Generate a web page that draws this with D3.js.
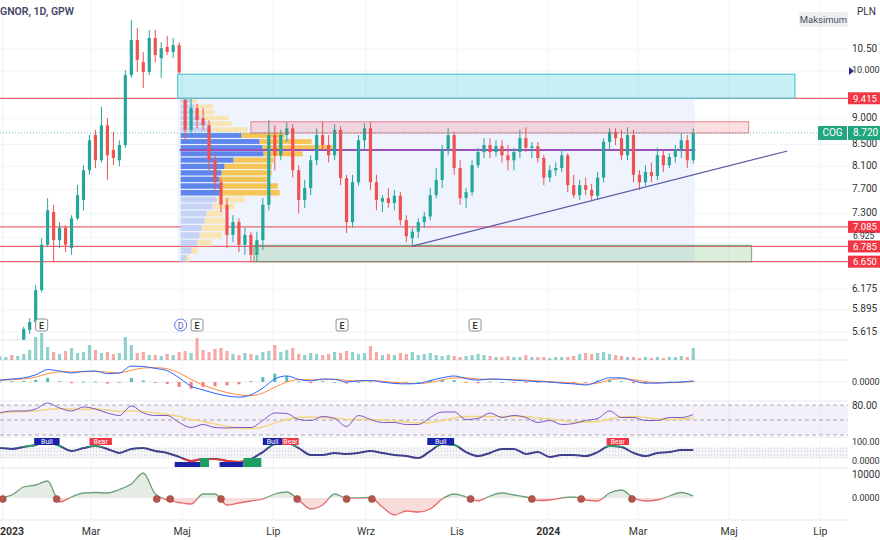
<!DOCTYPE html>
<html><head><meta charset="utf-8">
<script src="https://cdn.jsdelivr.net/npm/d3@7"></script>
<style>body{margin:0;background:#fff;}svg{display:block;font-family:Roboto,"Noto Sans",sans-serif;}</style>
</head><body><svg id="c" width="880" height="540"></svg>
<script>
// ---------------- DATA ----------------
const title = "GNOR, 1D, GPW";
const currency = "PLN";
const startDate = new Date(2022, 11, 30);
const stepDays = 4;          // one candle every 4 calendar days
const indicatorStep = 8;     // indicator samples every 8 calendar days

const opens = [5.30,5.33,5.38,5.36,5.52,5.64,5.74,6.16,6.81,7.32,6.88,7.07,6.76,7.22,7.52,8.03,8.68,8.21,8.87,8.40,8.21,8.49,9.91,10.71,10.20,9.98,10.76,10.29,10.55,10.43,10.59,9.38,8.78,9.21,9.01,8.87,8.21,7.82,7.44,6.96,7.16,6.81,6.96,6.66,6.88,7.44,8.68,8.30,8.68,8.81,8.03,7.52,7.72,8.21,8.68,8.49,8.30,8.78,7.89,7.16,7.82,8.58,8.81,7.82,7.49,7.55,7.47,7.59,7.19,6.91,7.01,7.16,7.25,7.60,7.86,8.40,8.68,8.07,7.55,7.65,8.12,8.36,8.49,8.36,8.47,8.30,8.21,8.36,8.62,8.44,8.47,8.25,7.90,8.03,8.07,8.30,7.77,7.60,7.77,7.69,7.59,7.90,8.55,8.74,8.62,8.30,8.68,7.95,7.82,8.00,7.93,8.30,8.12,8.27,8.40,8.58,8.21];
const highs = [5.36,5.42,5.45,5.52,5.68,5.79,6.23,6.91,7.55,7.44,7.16,7.11,7.27,7.77,8.12,8.68,8.78,9.24,9.01,8.74,8.58,10.02,11.20,11.00,10.43,10.95,10.95,10.66,10.81,10.76,10.66,9.41,9.40,9.30,9.21,8.97,8.30,7.90,7.55,7.27,7.22,7.07,7.01,7.01,7.55,8.97,8.87,8.78,8.93,8.89,8.12,7.86,8.30,8.81,8.95,8.68,8.89,8.85,7.95,7.95,8.68,8.91,8.93,7.95,7.60,7.72,7.69,7.65,7.27,7.07,7.22,7.32,7.72,8.07,8.49,8.81,8.74,8.21,7.72,8.21,8.44,8.62,8.62,8.58,8.58,8.49,8.44,8.78,8.83,8.55,8.55,8.30,8.12,8.17,8.40,8.34,7.95,7.86,7.90,7.79,8.00,8.62,8.81,8.81,8.78,8.83,8.78,8.03,8.12,8.17,8.44,8.40,8.34,8.49,8.72,8.68,8.81];
const lows = [5.26,5.30,5.33,5.34,5.50,5.59,5.71,6.13,6.78,6.55,6.76,6.70,6.66,7.19,7.35,7.95,8.07,8.17,7.86,8.12,8.10,8.44,9.85,9.98,9.63,9.91,10.20,9.85,10.36,10.29,9.93,8.58,8.68,8.81,8.78,8.03,7.69,7.32,6.76,6.85,6.70,6.66,6.55,6.56,6.73,7.35,8.03,8.21,8.55,7.90,7.30,7.39,7.60,8.12,8.40,8.17,8.21,7.77,6.99,7.07,7.76,8.40,7.69,7.35,7.32,7.39,7.35,7.11,6.85,6.79,6.91,7.07,7.19,7.55,7.72,8.30,7.95,7.44,7.39,7.59,8.07,8.25,8.25,8.28,8.17,8.03,8.03,8.25,8.36,8.25,8.17,7.77,7.82,7.93,8.00,7.65,7.55,7.52,7.60,7.50,7.52,7.82,8.40,8.49,8.21,8.21,7.82,7.69,7.76,7.82,7.86,8.00,8.07,8.17,8.25,8.07,8.15];
const closes = [5.33,5.38,5.36,5.50,5.65,5.74,6.16,6.81,7.35,6.88,7.07,6.81,7.22,7.60,8.03,8.58,8.21,8.87,8.30,8.25,8.49,9.91,10.71,10.25,9.98,10.76,10.36,10.52,10.43,10.59,9.97,8.78,9.21,8.97,8.87,8.21,7.82,7.44,6.96,7.16,6.81,6.96,6.66,6.88,7.44,8.68,8.30,8.68,8.81,8.03,7.52,7.72,8.21,8.68,8.49,8.30,8.78,7.89,7.16,7.82,8.58,8.81,7.82,7.52,7.55,7.47,7.59,7.19,6.94,7.01,7.16,7.25,7.60,7.86,8.40,8.68,8.07,7.55,7.65,8.12,8.36,8.49,8.36,8.47,8.30,8.21,8.36,8.62,8.44,8.47,8.25,7.90,8.03,8.07,8.30,7.77,7.60,7.77,7.69,7.59,7.90,8.55,8.74,8.62,8.30,8.68,7.95,7.82,8.00,7.93,8.30,8.12,8.27,8.40,8.58,8.21,8.72];
const volumes = [40,30,50,40,60,100,230,270,130,80,60,90,120,70,80,150,100,70,80,60,70,230,150,70,80,50,50,40,60,50,80,90,70,220,100,80,110,120,90,60,50,70,60,50,80,90,150,80,100,120,60,50,70,60,50,60,80,70,90,80,60,70,140,80,50,60,50,70,60,80,50,60,70,50,40,50,40,30,40,50,60,50,40,30,30,40,30,30,50,30,30,30,20,30,30,30,40,60,70,60,70,80,60,50,40,30,30,20,30,20,30,20,30,30,40,30,120];

const macdLine = [0.05,0.08,0.11,0.19,0.33,0.29,0.24,0.28,0.29,0.22,0.24,0.42,0.41,0.36,0.30,0.11,-0.11,-0.21,-0.30,-0.37,-0.40,-0.34,-0.16,0.08,0.16,0.07,0.03,0.08,0.07,0.00,0.03,0.04,0.00,-0.04,-0.05,-0.04,0.04,0.11,0.16,0.09,0.05,0.08,0.07,0.05,0.03,0.01,0.00,-0.03,-0.05,-0.08,0.01,0.11,0.11,0.03,-0.03,-0.03,-0.01,0.00,0.03];
const macdSignal = [0.04,0.06,0.08,0.13,0.22,0.27,0.27,0.27,0.28,0.26,0.24,0.31,0.37,0.38,0.35,0.24,0.07,-0.08,-0.19,-0.28,-0.34,-0.36,-0.29,-0.14,0.00,0.06,0.06,0.06,0.07,0.04,0.03,0.03,0.02,-0.01,-0.03,-0.04,-0.01,0.05,0.11,0.11,0.08,0.07,0.07,0.06,0.05,0.03,0.01,-0.01,-0.03,-0.06,-0.03,0.05,0.09,0.06,0.01,-0.02,-0.02,-0.01,0.01];
const rsiLine = [64,68,68,72,84,74,68,76,72,64,59,78,64,59,59,45,35,41,35,34,35,35,49,64,63,51,49,57,53,37,59,51,45,45,41,41,55,66,66,51,53,64,55,59,55,45,49,41,43,49,53,68,55,55,49,49,55,55,61];
const rsiMA = [65,66,67,68,71,73,72,71,72,70,67,68,67,64,61,57,51,47,42,37,34,33,36,44,51,55,56,55,54,51,51,51,50,48,46,44,45,49,54,57,57,57,57,57,57,54,52,49,46,46,47,52,56,57,55,52,51,52,54];
const oscLine = [71,67,76,86,100,81,57,71,81,67,48,67,71,57,48,29,10,19,19,10,5,19,52,90,95,71,38,38,48,43,48,57,48,38,33,24,57,90,86,52,33,48,67,67,43,52,29,38,38,33,52,81,76,48,33,48,52,62,62];
const momLine = [0.0,0.3,1.1,1.3,1.7,-0.4,0.1,0.5,0.55,0.5,0.85,1.4,2.5,0.4,-0.2,-0.45,-0.6,0.4,0.4,-0.7,-0.5,-0.3,-0.1,0.4,0.6,-0.2,-1.1,-0.7,0.4,0.0,0.0,0.05,-0.9,-1.7,-1.3,-1.4,-1.1,-0.1,0.4,0.1,-0.3,0.2,0.5,0.3,0.1,-0.25,-0.2,0.0,0.1,-0.2,-0.3,0.5,0.8,0.0,-0.3,-0.2,0.2,0.55,0.2];
const momDots = ["2023-01-01","2023-02-06","2023-04-14","2023-04-23","2023-05-27","2023-07-17","2023-08-19","2023-09-05","2023-11-10","2023-12-21","2024-01-23","2024-02-26"];

const oscSignals = [
  {from:"2023-01-22", to:"2023-02-08", pos:"top", kind:"bull", text:"Bull"},
  {from:"2023-02-28", to:"2023-03-15", pos:"top", kind:"bear", text:"Bear"},
  {from:"2023-06-24", to:"2023-07-07", pos:"top", kind:"bull", text:"Bull"},
  {from:"2023-07-07", to:"2023-07-18", pos:"top", kind:"bear", text:"Bear"},
  {from:"2023-10-12", to:"2023-10-30", pos:"top", kind:"bull", text:"Bull"},
  {from:"2024-02-09", to:"2024-02-24", pos:"top", kind:"bear", text:"Bear"},
  {from:"2023-04-26", to:"2023-05-13", pos:"bottom", kind:"bull", text:"Bull"},
  {from:"2023-05-13", to:"2023-05-19", pos:"bottom", kind:"up", text:""},
  {from:"2023-05-26", to:"2023-06-11", pos:"bottom", kind:"bull", text:"Bull"},
  {from:"2023-06-11", to:"2023-06-23", pos:"bottom", kind:"up", text:""}
];

const priceTicks = [10.5,10.0,9.0,8.5,8.1,7.7,7.3,6.925,6.175,5.895,5.615];
const priceTickLabels = ["10.50","10.000","9.000","8.500","8.100","7.700","7.300","6.925","6.175","5.895","5.615"];
const levels = [9.415, 7.085, 6.785, 6.56];
const levelLabels = ["9.415","7.085","6.785","6.650"];
const lastPriceLabel = "8.720";
const symbolTag = "COG";

const monthTicks = ["2023-01-01","2023-03-01","2023-05-01","2023-07-01","2023-09-01","2023-11-01","2024-01-01","2024-03-01","2024-05-01","2024-07-01"];
const monthLabels = ["2023","Mar","Maj","Lip","Wrz","Lis","2024","Mar","Maj","Lip"];

const earningsDates = ["2023-01-27","2023-05-11","2023-08-16","2023-11-13"];
const dividendDates = ["2023-04-30"];

// volume profile (rows top -> bottom, thousands of shares)
const vpRange = [6.55, 9.415];
const vpFrom = "2023-04-28", vpTo = "2024-04-08";
const vpUp =   [100,140,140,200,270,310,610,790,820,830,530,440,410,390,420,410,360,320,260,240,210,190,170,110,60];
const vpDown = [60,180,200,280,240,360,430,520,700,390,400,470,500,480,550,580,280,220,160,200,250,220,140,60,30];
const valueArea = [7.58, 8.73];
const pocPrice = 8.40;

const gapBox = {from:"2023-04-28", to:"2024-06-14", lo:9.415, hi:9.93};
const resistBox = {from:"2023-06-16", to:"2024-05-14", lo:8.72, hi:8.94};
const supportBox = {from:"2023-06-18", to:"2024-05-16", lo:6.56, hi:6.80};
const trendLine = [{date:"2023-10-02", v:6.79},{date:"2024-06-09", v:8.38}];

// ---------------- CHART ----------------
const svg = d3.select("#c");
const parse = d3.timeParse("%Y-%m-%d");
const plotR = 848;
const x = d3.scaleTime().domain([new Date(2023,0,1), new Date(2024,6,1)]).range([2.8, 820.3]);
const yP = d3.scaleLog().domain([5.615, 10.5]).range([332, 49]);
const yV = d3.scaleLinear().domain([0, 300]).range([360, 330]);
const yM = d3.scaleLinear().domain([-0.45, 0.45]).range([399, 365]);
const yR = d3.scaleLinear().domain([20, 80]).range([435, 405]);
const yO = d3.scaleLinear().domain([0, 100]).range([463, 442]);
const yQ = d3.scaleLinear().domain([-2.5, 2.5]).range([523, 473]);

const UP = "#26a69a", DN = "#ef5350";
const candles = opens.map((o,i)=>({date:d3.timeDay.offset(startDate, stepDays*i), o, h:highs[i], l:lows[i], c:closes[i], v:volumes[i]}));
const indDates = macdLine.map((_,k)=>d3.timeDay.offset(startDate, indicatorStep*k));

const defs = svg.append("defs");
function clip(id, x0, y0, w, h){ defs.append("clipPath").attr("id",id).append("rect").attr("x",x0).attr("y",y0).attr("width",w).attr("height",h); }
clip("cp",0,0,plotR,340); clip("cv",0,330,plotR,30); clip("cm",0,361,plotR,39);
clip("cr",0,401,plotR,36); clip("co",0,437,plotR,31); clip("cqa",0,468,plotR,yQ(0)-468); clip("cqb",0,yQ(0),plotR,520-yQ(0));

// grid
const grid = svg.append("g");
monthTicks.forEach(t=>grid.append("line").attr("x1",x(parse(t))).attr("x2",x(parse(t))).attr("y1",0).attr("y2",520).attr("stroke","#f0f3fa"));
priceTicks.forEach(t=>grid.append("line").attr("x1",0).attr("x2",plotR).attr("y1",yP(t)).attr("y2",yP(t)).attr("stroke","#f2f4f9"));

// separators
[340,360,401,437,468,520].forEach(yy=>svg.append("line").attr("x1",0).attr("x2",plotR).attr("y1",yy).attr("y2",yy).attr("stroke","#e6e8ee"));

// ---- price pane
const pp = svg.append("g").attr("clip-path","url(#cp)");
pp.append("rect").attr("x",x(parse(vpFrom))).attr("width",x(parse(vpTo))-x(parse(vpFrom)))
  .attr("y",yP(vpRange[1])).attr("height",yP(vpRange[0])-yP(vpRange[1])).attr("fill","#eef3fd");
levels.forEach(l=>pp.append("line").attr("x1",0).attr("x2",plotR).attr("y1",yP(l)).attr("y2",yP(l)).attr("stroke","#ee6470").attr("stroke-width",1.3));
const nRows = vpUp.length, step = (vpRange[1]-vpRange[0])/nRows;
const vpX = d3.scaleLinear().domain([0,1520]).range([0,152]);
const vx0 = x(parse(vpFrom))+3;
vpUp.forEach((u,r)=>{
  const top = vpRange[1]-r*step, bot = top-step, mid=(top+bot)/2;
  const inVA = mid>=valueArea[0] && mid<=valueArea[1];
  const y0 = yP(top)+0.5, h = Math.max(1, yP(bot)-yP(top)-1.2);
  pp.append("rect").attr("x",vx0).attr("y",y0).attr("width",vpX(u)).attr("height",h).attr("fill",inVA?"#5f86ec":"#c5d2f4");
  pp.append("rect").attr("x",vx0+vpX(u)).attr("y",y0).attr("width",vpX(vpDown[r])).attr("height",h).attr("fill",inVA?"#f6c556":"#f9e4b6");
});
pp.append("line").attr("x1",x(parse(vpFrom))+2).attr("x2",x(candles[candles.length-1].date)+2).attr("y1",yP(pocPrice)).attr("y2",yP(pocPrice)).attr("stroke","#9b52b8").attr("stroke-width",2);
const cg = pp.append("g");
candles.forEach(d=>{
  const col = d.c>=d.o?UP:DN, cx = x(d.date);
  cg.append("line").attr("x1",cx).attr("x2",cx).attr("y1",yP(d.h)).attr("y2",yP(d.l)).attr("stroke",col).attr("stroke-width",1);
  const yt = yP(Math.max(d.o,d.c)), yb = yP(Math.min(d.o,d.c));
  cg.append("rect").attr("x",cx-1.6).attr("width",3.2).attr("y",yt).attr("height",Math.max(1,yb-yt)).attr("fill",col);
});
function box(b, fill, stroke){
  pp.append("rect").attr("x",x(parse(b.from))).attr("width",x(parse(b.to))-x(parse(b.from)))
    .attr("y",yP(b.hi)).attr("height",yP(b.lo)-yP(b.hi)).attr("fill",fill).attr("stroke",stroke).attr("stroke-width",1.2);
}
box(gapBox,"rgba(0,188,212,0.22)","#57c7d6");
box(resistBox,"rgba(242,54,69,0.16)","rgba(226,90,104,0.6)");
box(supportBox,"rgba(76,175,80,0.2)","rgba(110,140,100,0.7)");
pp.append("line").attr("x1",x(parse(trendLine[0].date))).attr("y1",yP(trendLine[0].v))
  .attr("x2",x(parse(trendLine[1].date))).attr("y2",yP(trendLine[1].v)).attr("stroke","#5a5aa8").attr("stroke-width",1.2);
const last = candles[candles.length-1].c;
pp.append("line").attr("x1",0).attr("x2",plotR).attr("y1",yP(last)).attr("y2",yP(last)).attr("stroke","#26a69a").attr("stroke-dasharray","1,2").attr("stroke-opacity",0.7);

earningsDates.forEach(d=>{
  const cx = x(parse(d)), g = svg.append("g");
  g.append("rect").attr("x",cx-6).attr("y",319).attr("width",12).attr("height",12).attr("rx",2).attr("fill","#fff").attr("stroke","#8a8e99");
  g.append("text").attr("x",cx).attr("y",328.5).attr("text-anchor","middle").attr("font-size",9).attr("font-weight",600).attr("fill","#333").text("E");
});
dividendDates.forEach(d=>{
  const cx = x(parse(d)), g = svg.append("g");
  g.append("circle").attr("cx",cx).attr("cy",325).attr("r",6).attr("fill","#fff").attr("stroke","#5b73e8");
  g.append("text").attr("x",cx).attr("y",328.5).attr("text-anchor","middle").attr("font-size",9).attr("fill","#4a62d8").text("D");
});

// ---- volume pane
const vg = svg.append("g").attr("clip-path","url(#cv)");
candles.forEach(d=>{
  vg.append("rect").attr("x",x(d.date)-1.6).attr("width",3.2).attr("y",yV(d.v)).attr("height",yV(0)-yV(d.v))
    .attr("fill",d.c>=d.o?"rgba(38,166,154,0.5)":"rgba(239,83,80,0.5)");
});

// ---- MACD pane
const mg = svg.append("g").attr("clip-path","url(#cm)");
mg.append("line").attr("x1",0).attr("x2",plotR).attr("y1",yM(0)).attr("y2",yM(0)).attr("stroke","#eceef2");
macdLine.forEach((m,k)=>{
  const h = m - macdSignal[k];
  mg.append("rect").attr("x",x(indDates[k])-1.5).attr("width",3).attr("y",Math.min(yM(0),yM(h))).attr("height",Math.max(0.8,Math.abs(yM(h)-yM(0))))
    .attr("fill",h>=0?"rgba(38,166,154,0.75)":"rgba(239,83,80,0.75)");
});
const lineGen = (arr, ys)=>d3.line().x((d,k)=>x(indDates[k])).y(d=>ys(d)).curve(d3.curveMonotoneX)(arr);
mg.append("path").attr("d",lineGen(macdSignal,yM)).attr("fill","none").attr("stroke","#ff8a3d").attr("stroke-width",1);
mg.append("path").attr("d",lineGen(macdLine,yM)).attr("fill","none").attr("stroke","#2962ff").attr("stroke-width",1);

// ---- RSI pane
const rg = svg.append("g").attr("clip-path","url(#cr)");
rg.append("rect").attr("x",0).attr("width",plotR).attr("y",yR(80)).attr("height",yR(20)-yR(80)).attr("fill","rgba(126,87,194,0.09)");
[80,50,20].forEach(v=>rg.append("line").attr("x1",0).attr("x2",plotR).attr("y1",yR(v)).attr("y2",yR(v)).attr("stroke","#9598a1").attr("stroke-dasharray","4,3").attr("stroke-width",0.8));
rg.append("path").attr("d",lineGen(rsiMA,yR)).attr("fill","none").attr("stroke","#f3d57c").attr("stroke-width",1.3);
rg.append("path").attr("d",lineGen(rsiLine,yR)).attr("fill","none").attr("stroke","#7e57c2").attr("stroke-width",1);

// ---- oscillator pane
const og = svg.append("g").attr("clip-path","url(#co)");
og.append("rect").attr("x",0).attr("width",plotR).attr("y",yO(71)).attr("height",yO(24)-yO(71)).attr("fill","#f5f5f7");
[71,57,38,24].forEach(v=>og.append("line").attr("x1",0).attr("x2",plotR).attr("y1",yO(v)).attr("y2",yO(v)).attr("stroke","#c9cbd3").attr("stroke-dasharray","1,2"));
const oPath = lineGen(oscLine,yO);
og.append("path").attr("d",oPath).attr("fill","none").attr("stroke","#3f3f8e").attr("stroke-width",2);
clip("cog",0,437,plotR,yO(75)-437); clip("cor",0,yO(22),plotR,468-yO(22));
og.append("path").attr("d",oPath).attr("fill","none").attr("stroke","#2f9e6b").attr("stroke-width",2).attr("clip-path","url(#cog)");
og.append("path").attr("d",oPath).attr("fill","none").attr("stroke","#e53935").attr("stroke-width",2).attr("clip-path","url(#cor)");
const sigCol = {bull:"#1a23a8", bear:"#f23645", up:"#1e9e62"};
oscSignals.forEach(s=>{
  const x0 = x(parse(s.from)), x1 = x(parse(s.to));
  const yy = s.pos==="top" ? 438 : (s.kind==="up"?458:462);
  const hh = s.pos==="top" ? 7 : (s.kind==="up"?9:5);
  svg.append("rect").attr("x",x0).attr("y",yy).attr("width",x1-x0).attr("height",hh).attr("fill",sigCol[s.kind]);
  if(s.text && s.pos==="top") svg.append("text").attr("x",(x0+x1)/2).attr("y",yy+6).attr("text-anchor","middle").attr("font-size",7).attr("fill","#fff").text(s.text);
});

// ---- momentum pane
const qArea = d3.area().x((d,k)=>x(indDates[k])).y0(yQ(0)).y1(d=>yQ(d)).curve(d3.curveMonotoneX)(momLine);
const qLine = lineGen(momLine,yQ);
const qa = svg.append("g").attr("clip-path","url(#cqa)");
qa.append("path").attr("d",qArea).attr("fill","#e4ece4");
qa.append("path").attr("d",qLine).attr("fill","none").attr("stroke","#6f9f7a").attr("stroke-width",1.3);
const qb = svg.append("g").attr("clip-path","url(#cqb)");
qb.append("path").attr("d",qArea).attr("fill","#f8dcdc");
qb.append("path").attr("d",qLine).attr("fill","none").attr("stroke","#e46c6c").attr("stroke-width",1.3);
momDots.forEach(d=>svg.append("circle").attr("cx",x(parse(d))).attr("cy",yQ(0)+1).attr("r",3.5).attr("fill","#b5554d").attr("stroke","#9a4540").attr("stroke-width",0.6));

// ---- right axis
const ax = svg.append("g");
ax.append("rect").attr("x",plotR).attr("y",0).attr("width",32).attr("height",540).attr("fill","#fff");
ax.append("text").attr("x",857).attr("y",15).attr("font-size",10).attr("fill","#333").text(currency);
ax.append("rect").attr("x",799).attr("y",12).attr("width",49).attr("height",15).attr("rx",3).attr("fill","#eceef2");
ax.append("text").attr("x",823.5).attr("y",23).attr("text-anchor","middle").attr("font-size",9.5).attr("fill","#4a4e5a").text("Maksimum");
const fs = s => s.length>5 ? 9 : 10;
priceTicks.forEach((t,i)=>{ if(priceTickLabels[i]!=="6.925") ax.append("text").attr("x",852).attr("y",yP(t)-1).attr("dy","0.35em").attr("font-size",fs(priceTickLabels[i])).attr("fill","#333").text(priceTickLabels[i]); });
ax.append("path").attr("d",`M849,${yP(10)-4}L854,${yP(10)}L849,${yP(10)+4}Z`).attr("fill","#2a2e80");
levels.forEach((l,i)=>{
  ax.append("rect").attr("x",848).attr("y",yP(l)-6).attr("width",32).attr("height",12).attr("fill","#f23645");
  ax.append("text").attr("x",853).attr("y",yP(l)).attr("dy","0.35em").attr("font-size",9.5).attr("fill","#fff").text(levelLabels[i]);
});
priceTickLabels.forEach((lab,i)=>{ if(lab==="6.925") ax.append("text").attr("x",853).attr("y",yP(priceTicks[i])-1.5).attr("dy","0.35em").attr("font-size",8.5).attr("fill","#333").text(lab); });
ax.append("rect").attr("x",818).attr("y",yP(last)-7).attr("width",29).attr("height",14).attr("fill","#22a67f");
ax.append("text").attr("x",832.5).attr("y",yP(last)).attr("dy","0.35em").attr("text-anchor","middle").attr("font-size",10).attr("fill","#fff").text(symbolTag);
ax.append("rect").attr("x",848).attr("y",yP(last)-7).attr("width",32).attr("height",14).attr("fill","#22a67f");
ax.append("text").attr("x",853).attr("y",yP(last)).attr("dy","0.35em").attr("font-size",10).attr("fill","#fff").text(lastPriceLabel);
[[yM(0),"0.0000"],[yR(80),"80.00"],[yO(100),"100.00"],[yO(0)-2,"0.0000"],[474,"10000"],[yQ(0),"0.0000"]].forEach(p=>
  ax.append("text").attr("x",852).attr("y",p[0]).attr("dy","0.35em").attr("font-size",fs(p[1])).attr("fill","#333").text(p[1]));

// time axis (first label kept inside the left edge)
monthTicks.forEach((t,i)=>{
  const tx = x(parse(t)), first = tx < 15;
  svg.append("text").attr("x",first?0:tx).attr("y",535).attr("text-anchor",first?"start":"middle")
    .attr("font-size",10.5).attr("font-weight",/^\d{4}$/.test(monthLabels[i])?700:400).attr("fill","#333").text(monthLabels[i]);
});

svg.append("text").attr("x",0).attr("y",15).attr("font-size",10.5).attr("font-weight",600).attr("fill","#45466a").text(title);
</script></body></html>
